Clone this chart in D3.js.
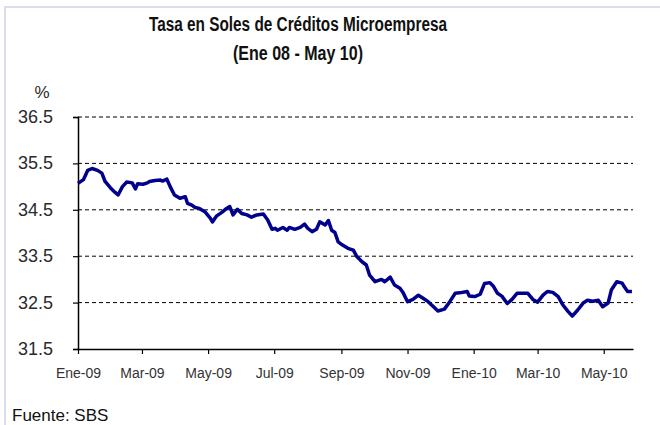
<!DOCTYPE html>
<html>
<head>
<meta charset="utf-8">
<script src="https://cdn.jsdelivr.net/npm/d3@7"></script>
<style>
  html, body { margin: 0; padding: 0; background: #fff; }
  svg { display: block; font-family: "Liberation Sans", Arial, sans-serif; }
</style>
</head>
<body>
<svg id="chart" width="660" height="425"></svg>
<script>
// ---- DATA ----
const titleText = "Tasa en Soles de Créditos Microempresa";
const subtitleText = "(Ene 08 - May 10)";
const unitLabel = "%";
const sourceText = "Fuente: SBS";

const dates = [
  "2009-01-01","2009-01-06","2009-01-10","2009-01-14","2009-01-19","2009-01-23","2009-01-26","2009-01-31",
  "2009-02-04","2009-02-07","2009-02-11","2009-02-15","2009-02-20","2009-02-23","2009-02-25",
  "2009-03-02","2009-03-06","2009-03-08","2009-03-13","2009-03-18","2009-03-20","2009-03-24","2009-03-27","2009-03-31",
  "2009-04-05","2009-04-10","2009-04-12","2009-04-16","2009-04-19","2009-04-23","2009-04-28",
  "2009-05-03","2009-05-05","2009-05-09","2009-05-14","2009-05-17","2009-05-21","2009-05-24","2009-05-28",
  "2009-06-01","2009-06-06","2009-06-10","2009-06-15","2009-06-21","2009-06-25","2009-06-29",
  "2009-07-02","2009-07-04","2009-07-09","2009-07-13","2009-07-15","2009-07-20","2009-07-25","2009-07-29",
  "2009-08-01","2009-08-05","2009-08-09","2009-08-12","2009-08-17","2009-08-20","2009-08-23","2009-08-26","2009-08-29",
  "2009-09-02","2009-09-07","2009-09-12","2009-09-15","2009-09-20","2009-09-24","2009-09-27",
  "2009-10-02","2009-10-08","2009-10-11","2009-10-16","2009-10-20","2009-10-25","2009-10-28",
  "2009-11-01","2009-11-06","2009-11-11","2009-11-15","2009-11-20","2009-11-24","2009-11-29",
  "2009-12-05","2009-12-10","2009-12-15","2009-12-19","2009-12-26","2009-12-28",
  "2010-01-02","2010-01-07","2010-01-11","2010-01-16","2010-01-19","2010-01-23","2010-01-27",
  "2010-02-01","2010-02-05","2010-02-10","2010-02-15","2010-02-20","2010-02-25",
  "2010-03-01","2010-03-06","2010-03-10","2010-03-15","2010-03-20","2010-03-24","2010-03-29",
  "2010-04-02","2010-04-07","2010-04-12","2010-04-16","2010-04-21","2010-04-26","2010-04-30",
  "2010-05-05","2010-05-08","2010-05-13","2010-05-18","2010-05-20","2010-05-23","2010-05-27"
];

const rates = [
  35.07,35.15,35.35,35.39,35.35,35.29,35.11,34.97,
  34.88,34.82,35.00,35.10,35.08,34.95,35.06,
  35.05,35.08,35.11,35.13,35.14,35.12,35.16,35.00,34.82,
  34.75,34.78,34.64,34.60,34.55,34.53,34.46,
  34.32,34.24,34.37,34.45,34.51,34.57,34.39,34.51,
  34.42,34.39,34.34,34.39,34.41,34.28,34.08,
  34.10,34.06,34.12,34.06,34.12,34.08,34.12,34.19,
  34.10,34.03,34.08,34.24,34.17,34.27,34.06,34.01,33.81,
  33.74,33.67,33.63,33.50,33.38,33.31,33.09,
  32.95,33.00,32.95,33.05,32.88,32.81,32.71,
  32.52,32.57,32.66,32.60,32.52,32.43,32.32,
  32.36,32.52,32.70,32.71,32.74,32.64,
  32.63,32.68,32.91,32.93,32.86,32.70,32.64,
  32.48,32.56,32.70,32.70,32.70,32.56,
  32.51,32.66,32.74,32.72,32.63,32.46,32.31,
  32.21,32.34,32.49,32.55,32.53,32.55,32.41,
  32.49,32.77,32.95,32.92,32.84,32.74,32.74
];

const yTicks = [31.5, 32.5, 33.5, 34.5, 35.5, 36.5];
const xTickDates = ["2009-01-01","2009-03-01","2009-05-01","2009-07-01","2009-09-01","2009-11-01","2010-01-01","2010-03-01","2010-05-01"];
const xTickLabels = ["Ene-09","Mar-09","May-09","Jul-09","Sep-09","Nov-09","Ene-10","Mar-10","May-10"];
const xDomain = ["2009-01-01","2010-05-28"];

// ---- CHART ----
const parse = d3.timeParse("%Y-%m-%d");
const svg = d3.select("#chart");

const plotL = 78, plotR = 633, plotT = 117, plotB = 349;

const x = d3.scaleTime().domain(xDomain.map(parse)).range([plotL, plotR]);
const y = d3.scaleLinear().domain([31.5, 36.5]).range([plotB, plotT]);

// frame border
svg.append("path")
  .attr("d", `M5,425 L5,7 L660,7`)
  .attr("fill", "none")
  .attr("stroke", "#dcdcec")
  .attr("stroke-width", 2);

// titles (condensed bold, like Arial Narrow)
svg.append("text")
  .attr("x", 149).attr("y", 31)
  .attr("textLength", 298).attr("lengthAdjust", "spacingAndGlyphs")
  .attr("font-size", 19.5).attr("font-weight", "bold").attr("fill", "#111")
  .text(titleText);
svg.append("text")
  .attr("x", 233).attr("y", 60)
  .attr("textLength", 130).attr("lengthAdjust", "spacingAndGlyphs")
  .attr("font-size", 19.5).attr("font-weight", "bold").attr("fill", "#111")
  .text(subtitleText);

// gridlines
svg.append("g")
  .selectAll("line")
  .data(yTicks.filter(v => v !== 31.5))
  .join("line")
  .attr("x1", plotL).attr("x2", plotR)
  .attr("y1", d => y(d)).attr("y2", d => y(d))
  .attr("stroke", "#000").attr("stroke-width", 1)
  .attr("stroke-dasharray", "4,3");

// Y axis
const yAxis = svg.append("g")
  .attr("transform", `translate(${plotL},0)`)
  .call(d3.axisLeft(y).tickValues(yTicks).tickSize(5).tickPadding(20).tickFormat(d3.format(".1f")));
yAxis.select(".domain").attr("stroke", "#000").attr("stroke-width", 1.5);
yAxis.selectAll(".tick line").attr("stroke", "#000").attr("stroke-width", 1.2);
yAxis.selectAll(".tick text")
  .attr("font-size", 18).attr("fill", "#2a2a2a")
  .attr("font-family", "'Liberation Sans', Arial, sans-serif")
  .attr("dy", "0.3em");

// X axis
const xAxis = svg.append("g")
  .attr("transform", `translate(0,${plotB})`)
  .call(d3.axisBottom(x)
    .tickValues(xTickDates.map(parse))
    .tickSize(5).tickSizeOuter(0).tickPadding(14)
    .tickFormat((d, i) => xTickLabels[i]));
xAxis.select(".domain").attr("stroke", "#000").attr("stroke-width", 1.5);
xAxis.selectAll(".tick line").attr("stroke", "#000").attr("stroke-width", 1.2);
xAxis.selectAll(".tick text")
  .attr("font-size", 14).attr("fill", "#333")
  .attr("font-family", "'Liberation Sans', Arial, sans-serif");

// unit label
svg.append("text")
  .attr("x", 42).attr("y", 98)
  .attr("text-anchor", "middle")
  .attr("font-size", 17).attr("fill", "#2a2a2a")
  .text(unitLabel);

// line
const series = dates.map((d, i) => ({ date: parse(d), value: rates[i] }));
svg.append("path")
  .datum(series)
  .attr("fill", "none")
  .attr("stroke", "#00008c")
  .attr("stroke-width", 3.5)
  .attr("stroke-linejoin", "round")
  .attr("d", d3.line().x(d => x(d.date)).y(d => y(d.value)));

// source
svg.append("text")
  .attr("x", 12).attr("y", 421)
  .attr("font-size", 17).attr("fill", "#111")
  .text(sourceText);
</script>
</body>
</html>
